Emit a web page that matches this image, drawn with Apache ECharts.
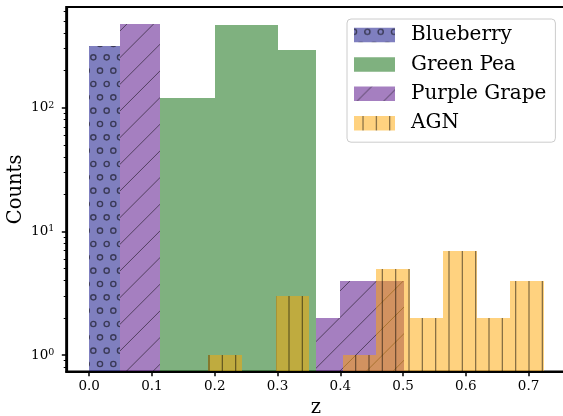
<!DOCTYPE html>
<html><head><meta charset="utf-8">
<script src="https://cdn.jsdelivr.net/npm/echarts@6/dist/echarts.min.js"></script>
<style>html,body{margin:0;padding:0;background:#fff}#c{width:563px;height:416px}</style>
</head><body><div id="c"></div>
<script>
// ---- data ----
const seriesNames = ['Blueberry', 'Green Pea', 'Purple Grape', 'AGN'];
const blueberryEdges = [0.0, 0.0496];
const blueberryCounts = [315];
const greenPeaEdges = [0.1126, 0.2003, 0.3001, 0.3607];
const greenPeaCounts = [120, 466, 294];
const purpleGrapeEdges = [0.0496, 0.1126, 0.3607, 0.4002, 0.5014];
const purpleGrapeCounts = [476, 0, 2, 4];
const agnEdges = [0.19, 0.2434, 0.2968, 0.3502, 0.4036, 0.457, 0.5104, 0.5638, 0.6172, 0.6706, 0.724];
const agnCounts = [1, 0, 3, 0, 1, 5, 2, 7, 2, 4];
const xTickValues = [0, 0.1, 0.2, 0.3, 0.4, 0.5, 0.6, 0.7];
const yMajorTicks = [1, 10, 100];
const yMinorTicks = [0.8, 0.9, 2, 3, 4, 5, 6, 7, 8, 9, 20, 30, 40, 50, 60, 70, 80, 90, 200, 300, 400, 500, 600];

// ---- layout / style ----
const FONT = 'DejaVu Serif';
const X_MIN = -0.0365, X_MAX = 0.7585, Y_MIN = 0.733, Y_MAX = 652;

function bins(edges, counts) {
  const out = [];
  for (let i = 0; i < counts.length; i++) if (counts[i] > 0) out.push([edges[i], edges[i + 1], counts[i]]);
  return out;
}
function tile(w, h, bg, draw) {
  const c = document.createElement('canvas');
  c.width = w; c.height = h;
  const g = c.getContext('2d');
  g.fillStyle = bg; g.fillRect(0, 0, w, h);
  if (draw) draw(g);
  return { image: c, repeat: 'repeat' };
}
const HATCH = 'rgba(0,0,0,0.5)';
const blueFill = tile(80, 80, 'rgba(0,0,128,0.5)', g => {
  g.strokeStyle = 'rgba(0,0,0,0.55)'; g.lineWidth = 1.4;
  const ring = (x, y) => { g.beginPath(); g.arc(x, y, 2.6, 0, Math.PI * 2); g.stroke(); };
  for (let j = -1; j <= 3; j++) for (let i = -1; i <= 6; i++) {
    ring(13.3333 * i, 4 + 26.6667 * j);
    ring(6.6667 + 13.3333 * i, 17.3333 + 26.6667 * j);
  }
});
const greenFill = 'rgba(0,100,0,0.5)';
const purpleFill = tile(80, 80, 'rgba(75,0,130,0.5)', g => {
  g.strokeStyle = HATCH; g.lineWidth = 1;
  for (let k = -2; k <= 8; k++) {
    const c = 17.6 + 26.6667 * k;
    g.beginPath(); g.moveTo(-10, c + 10); g.lineTo(90, c - 90); g.stroke();
  }
});
const agnFill = tile(40, 40, 'rgba(255,165,0,0.5)', g => {
  g.strokeStyle = HATCH; g.lineWidth = 1.2;
  [9, 22.3333, 35.6667].forEach(x => { g.beginPath(); g.moveTo(x, -2); g.lineTo(x, 42); g.stroke(); });
});
const fills = [blueFill, greenFill, purpleFill, agnFill];
const datasets = [
  bins(blueberryEdges, blueberryCounts),
  bins(greenPeaEdges, greenPeaCounts),
  bins(purpleGrapeEdges, purpleGrapeCounts),
  bins(agnEdges, agnCounts)
];

function makeRender(fill) {
  return function (params, api) {
    const top = api.coord([api.value(0), api.value(2)]);
    const bot = api.coord([api.value(1), Y_MIN]);
    const x0 = Math.round(top[0]), x1 = Math.round(bot[0]);
    const y0 = Math.round(top[1]), y1 = Math.round(bot[1]);
    return {
      type: 'rect',
      shape: { x: x0, y: y0, width: x1 - x0, height: y1 - y0 },
      style: { fill: fill, stroke: null, lineWidth: 0 }
    };
  };
}

const series = seriesNames.map((name, i) => ({
  type: 'custom',
  name: name,
  xAxisIndex: 0, yAxisIndex: 0,
  dimensions: ['x0', 'x1', 'count'],
  encode: { x: [0, 1], y: 2 },
  itemStyle: { color: fills[i], borderWidth: 0 },
  renderItem: makeRender(fills[i]),
  data: datasets[i],
  silent: true,
  animation: false
}));

const chart = echarts.init(document.getElementById('c'), null, { renderer: 'canvas', width: 563, height: 416 });
chart.setOption({
  backgroundColor: '#fff',
  animation: false,
  grid: {
    left: 66.3, top: 7, width: 499, height: 364.7,
    show: true, borderColor: '#000', borderWidth: 2.2, backgroundColor: 'transparent',
    outerBoundsMode: 'none', containLabel: false
  },
  legend: {
    data: seriesNames,
    orient: 'vertical',
    left: 347, top: 19,
    padding: [6, 9, 9, 7],
    itemGap: 9.4, itemWidth: 41, itemHeight: 14.5,
    icon: 'rect',
    selectedMode: false,
    backgroundColor: 'rgba(255,255,255,0.8)',
    borderColor: '#cccccc', borderWidth: 1, borderRadius: 4,
    itemStyle: { borderWidth: 0 },
    textStyle: { fontFamily: FONT, fontSize: 20, lineHeight: 20, color: '#000', padding: [0, 0, 0, 11] }
  },
  xAxis: {
    type: 'value', min: X_MIN, max: X_MAX,
    z: 10,
    name: 'z', nameLocation: 'middle', nameGap: 26, nameMoveOverlap: false,
    nameTextStyle: { fontFamily: FONT, fontSize: 19.5, color: '#000' },
    axisLine: { show: true, onZero: false, lineStyle: { color: '#000', width: 2.2 } },
    axisTick: { show: true, customValues: xTickValues, length: 4.5, lineStyle: { color: '#000', width: 1.5 } },
    axisLabel: {
      customValues: xTickValues, margin: 8,
      formatter: v => v.toFixed(1),
      fontFamily: FONT, fontSize: 13.5, color: '#000'
    },
    splitLine: { show: false }
  },
  yAxis: [{
    type: 'log', logBase: 10, min: Y_MIN, max: Y_MAX, position: 'left',
    z: 10,
    name: 'Counts', nameLocation: 'middle', nameGap: 40, nameMoveOverlap: false,
    nameTextStyle: { fontFamily: FONT, fontSize: 19.5, color: '#000' },
    axisLine: { show: true, onZero: false, lineStyle: { color: '#000', width: 2.2 } },
    axisTick: { show: true, customValues: yMajorTicks, length: 4.5, lineStyle: { color: '#000', width: 1.5 } },
    axisLabel: {
      customValues: yMajorTicks, margin: 12,
      formatter: v => '10{s|' + Math.round(Math.log10(v)) + '}',
      fontFamily: FONT, fontSize: 13.5, lineHeight: 15, color: '#000',
      rich: { s: { fontFamily: FONT, fontSize: 9.5, lineHeight: 9.5, verticalAlign: 'top', color: '#000' } }
    },
    splitLine: { show: false }
  }, {
    type: 'log', logBase: 10, min: Y_MIN, max: Y_MAX, position: 'left',
    axisLine: { show: false, onZero: false },
    axisTick: { show: true, customValues: yMinorTicks, length: 2.6, lineStyle: { color: '#000', width: 1 } },
    axisLabel: { show: false },
    splitLine: { show: false }
  }],
  series: series
});
</script>
</body></html>
